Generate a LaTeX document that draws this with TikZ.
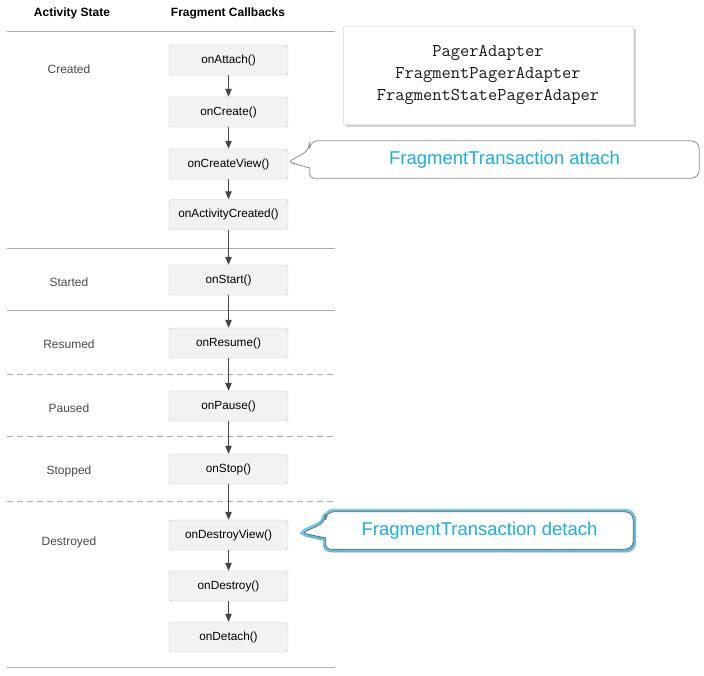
\documentclass[tikz,border=0pt]{standalone}
\usepackage{fontspec}
\setmainfont{Liberation Sans}
\usetikzlibrary{arrows.meta, shadows}

\definecolor{cbfill}{HTML}{F2F2F2}
\definecolor{cbline}{HTML}{C6C6C6}
\definecolor{rulegray}{HTML}{ABABAB}
\definecolor{flowgray}{HTML}{454545}
\definecolor{labelgray}{HTML}{484848}
\definecolor{ftblue}{HTML}{1AADE6}
\definecolor{glowblue}{HTML}{3AB4E2}

\pgfdeclarelayer{bubble}
\pgfsetlayers{bubble,main}

\tikzset{
    x=1pt, y=-1pt, >={Triangle[width=6.5pt, length=8pt]},
    heading/.style={font=\fontsize{12}{14}\selectfont\bfseries},
    state/.style={text=labelgray, font=\fontsize{12}{14}\selectfont},
    callback/.style={draw=cbline, fill=cbfill, rounded corners=3pt, inner sep=0pt,
        minimum width=119pt, minimum height=30pt, font=\fontsize{11.8}{14}\selectfont},
    flow/.style={->, draw=flowgray, line width=1pt},
    rule/.style={draw=rulegray, line width=.8pt},
    phase/.style={rule, dash pattern=on 6pt off 4pt},
    adapters/.style={fill=white, draw=black!10, align=center, text=black!90,
        minimum width=290pt, minimum height=98pt,
        font=\ttfamily\fontsize{18}{22}\selectfont,
        drop shadow={shadow xshift=3pt, shadow yshift=-3pt, opacity=.35}},
    note/.style={inner sep=0pt, text=ftblue, font=\fontsize{18.5}{20}\selectfont},
    bubble/.style={fill=white, draw=black!45, line width=.8pt},
    glow-bubble/.style={drop shadow={shadow xshift=2.5pt, shadow yshift=-3.5pt, opacity=.4},
        preaction={draw=glowblue, line width=6pt, opacity=.75},
        fill=white, draw=black!60, line width=.8pt},
}

\begin{document}
\begin{tikzpicture}
    \useasboundingbox (0,0) rectangle (704,675);

    \node [heading] (head-state) at (72,13) {Activity State};
    \node [heading] (head-callbacks) at (228,13) {Fragment Callbacks};

    \foreach \y in {31,248,310,667} {\draw [rule] (7,\y) -- (335,\y);}
    \foreach \y in {374,436,501} {\draw [phase] (7,\y) -- (335,\y);}

    \node [state] (st-created) at (69,69) {Created};
    \node [state] (st-started) at (69,282) {Started};
    \node [state] (st-resumed) at (69,344) {Resumed};
    \node [state] (st-paused) at (69,408) {Paused};
    \node [state] (st-stopped) at (69,471) {Stopped};
    \node [state] (st-destroyed) at (69,542) {Destroyed};

    \node [callback] (cb-attach) at (228.5,60) {onAttach()};
    \node [callback] (cb-create) at (228.5,112) {onCreate()};
    \node [callback] (cb-createview) at (228.5,164) {onCreateView()};
    \node [callback] (cb-activity) at (228.5,214.5) {onActivityCreated()};
    \node [callback] (cb-start) at (228.5,280) {onStart()};
    \node [callback] (cb-resume) at (228.5,343) {onResume()};
    \node [callback] (cb-pause) at (228.5,406) {onPause()};
    \node [callback] (cb-stop) at (228.5,469) {onStop()};
    \node [callback] (cb-destroyview) at (228.5,535) {onDestroyView()};
    \node [callback] (cb-destroy) at (228.5,586) {onDestroy()};
    \node [callback] (cb-detach) at (228.5,637) {onDetach()};

    \foreach \a/\b in {cb-attach/cb-create, cb-create/cb-createview,
        cb-createview/cb-activity, cb-activity/cb-start, cb-start/cb-resume,
        cb-resume/cb-pause, cb-pause/cb-stop, cb-stop/cb-destroyview,
        cb-destroyview/cb-destroy, cb-destroy/cb-detach}
        {\draw [flow] (\a) -- (\b);}

    \node [adapters] (adapters) at (488,75)
        {PagerAdapter\\FragmentPagerAdapter\\FragmentStatePagerAdaper};

    \node [note, minimum width=389pt, minimum height=37pt] (ft-attach) at (504.5,159.5)
        {FragmentTransaction attach};
    \node [note, minimum width=307pt, minimum height=37pt] (ft-detach) at (479.5,530.5)
        {FragmentTransaction detach};

    \begin{pgfonlayer}{bubble}
        \fill [white] (0,0) rectangle (704,675);
        \path [bubble] (ft-attach.north) [rounded corners=8pt] -- (ft-attach.north west)
            -- ([yshift=9.5pt]ft-attach.west) [rounded corners=4pt]
            -- ([yshift=2pt]cb-createview.east) [sharp corners]
            -- ([yshift=-8.5pt]ft-attach.west) [rounded corners=4pt]
            -- (ft-attach.south west) [rounded corners=8pt]
            -- (ft-attach.south east) -- (ft-attach.north east) -- cycle;
        \path [glow-bubble] (ft-detach.north) [rounded corners=8pt] -- (ft-detach.north west)
            -- ([yshift=8.5pt]ft-detach.west) [rounded corners=4pt]
            -- ([xshift=14pt,yshift=2pt]cb-destroyview.east) [sharp corners]
            -- ([yshift=-7.5pt]ft-detach.west) [rounded corners=4pt]
            -- (ft-detach.south west) [rounded corners=8pt]
            -- (ft-detach.south east) -- (ft-detach.north east) -- cycle;
    \end{pgfonlayer}
\end{tikzpicture}
\end{document}
